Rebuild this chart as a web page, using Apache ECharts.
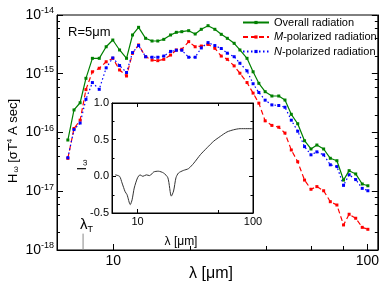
<!DOCTYPE html>
<html><head><meta charset="utf-8">
<script src="https://cdn.jsdelivr.net/npm/echarts@6/dist/echarts.min.js"></script>
<style>html,body{margin:0;padding:0;background:#fff}#c{width:382px;height:295px}</style>
</head><body><div id="c"></div>
<script>
// wavelength samples (μm)
const lambda = [6.62,7.0,7.4,7.8,8.27,8.8,9.37,9.95,10.58,11.27,11.9,12.57,13.4,14.2,14.96,15.8,16.8,17.7,18.6,19.8,21.0,22.2,23.6,25.1,26.6,28.1,29.9,31.5,33.6,35.5,37.4,39.6,42.1,44.8,47.4,50.2,53.2,56.6,60.0,63.3,67.3,71.5,75.9,80.6,84.8,90.0,95.5,100.5];
const overall = [7.45e-17,2.42e-16,3.21e-16,8.36e-16,1.83e-15,1.83e-15,2.88e-15,3.75e-15,2.54e-15,1.83e-15,4.57e-15,6.17e-15,4.01e-15,3.61e-15,3.61e-15,3.85e-15,4.57e-15,5.07e-15,5.2e-15,5.41e-15,4.75e-15,5.71e-15,6.58e-15,5.71e-15,4.69e-15,4.01e-15,3.3e-15,2.54e-15,1.83e-15,1.08e-15,6.87e-16,4.95e-16,4.18e-16,4.18e-16,3.57e-16,2.04e-16,1.41e-16,7.24e-17,5.24e-17,6.12e-17,5.24e-17,3.64e-17,3.31e-17,1.55e-17,2.24e-17,1.97e-17,1.33e-17,1.24e-17];
const mPolarized = [3.63e-17,1.17e-16,1.62e-16,5.37e-16,1.08e-15,1.24e-15,1.6e-15,1.83e-15,1.16e-15,9.16e-16,2.23e-15,3.09e-15,1.95e-15,1.71e-15,1.67e-15,1.76e-15,2.08e-15,2.54e-15,2.61e-15,3.52e-15,2.88e-15,2.96e-15,3.16e-15,2.71e-15,2.0e-15,1.76e-15,1.36e-15,1.02e-15,7.08e-16,4.68e-16,3.16e-16,1.58e-16,1.32e-16,1.23e-16,9.77e-17,5.04e-17,3.18e-17,1.55e-17,1.08e-17,1.2e-17,1.02e-17,6.64e-18,5.83e-18,2.67e-18,4.06e-18,3.47e-18,2.43e-18,2.25e-18];
const nPolarized = [3.72e-17,1.12e-16,1.45e-16,3.67e-16,7.08e-16,5.43e-16,1.26e-15,1.86e-15,1.38e-15,1.05e-15,2.29e-15,3.02e-15,1.95e-15,1.91e-15,1.91e-15,2.0e-15,2.4e-15,2.51e-15,2.51e-15,1.91e-15,1.91e-15,2.75e-15,3.39e-15,3.02e-15,2.69e-15,2.24e-15,1.95e-15,1.51e-15,1.12e-15,6.76e-16,4.79e-16,3.55e-16,2.95e-16,2.88e-16,2.69e-16,1.62e-16,1.05e-16,5.75e-17,4.17e-17,4.68e-17,4.17e-17,2.82e-17,2.63e-17,1.26e-17,1.91e-17,1.58e-17,1.12e-17,1.02e-17];
// inset
const insetLambda = [6.4,6.98,7.33,7.8,8.1,8.64,8.96,9.35,9.99,10.5,11.1,11.9,12.7,13.8,15.1,16.8,18.3,19.6,20.5,21.5,22.6,24.9,27.6,30.7,35.0,40.0,45.7,52.1,59.5,67.9,77.3,100];
const insetI = [0.02,0.0,-0.09,-0.21,-0.25,-0.385,-0.32,-0.16,-0.02,0.02,0.0,0.02,0.01,0.06,0.07,0.045,-0.02,-0.27,-0.2,-0.02,0.045,0.08,0.105,0.18,0.295,0.39,0.48,0.545,0.605,0.635,0.65,0.65];
// thermal wavelength marker
const lambdaT = 7.6;
const lambdaTSpan = [1e-18, 1.9e-18];
// minor ticks
const yMinorTicks = [2e-18,4e-18,6e-18,8e-18,2e-17,4e-17,6e-17,8e-17,2e-16,4e-16,6e-16,8e-16,2e-15,4e-15,6e-15,8e-15];
const xMinorTicks = [20,40,60,80];
const insetXMinorTicks = [50];
const insetYMinorTicks = [-0.25,0.25,0.75];

const FF = 'Liberation Sans';
const BLACK = '#000';
const chart = echarts.init(document.getElementById('c'), null, {renderer:'canvas'});

function zip(a,b){ return a.map((v,i)=>[v,b[i]]); }
function isDecade(v){ const e = Math.log10(v); return Math.abs(e-Math.round(e))<1e-6; }

function yMinorRender(len){
  return function(params, api){
    const cs = params.coordSys;
    const y = Math.round(api.coord([api.value(0), api.value(1)])[1]) + 0.5;
    return {type:'group', children:[
      {type:'line', shape:{x1:cs.x, y1:y, x2:cs.x+len, y2:y}, style:{stroke:BLACK, lineWidth:1}},
      {type:'line', shape:{x1:cs.x+cs.width, y1:y, x2:cs.x+cs.width-len, y2:y}, style:{stroke:BLACK, lineWidth:1}}
    ]};
  };
}
function xMinorRender(len, top){
  return function(params, api){
    const cs = params.coordSys;
    const x = Math.round(api.coord([api.value(0), api.value(1)])[0]) + 0.5;
    const ch = [{type:'line', shape:{x1:x, y1:cs.y+cs.height, x2:x, y2:cs.y+cs.height-len}, style:{stroke:BLACK, lineWidth:1}}];
    if (top) ch.push({type:'line', shape:{x1:x, y1:cs.y, x2:x, y2:cs.y+len}, style:{stroke:BLACK, lineWidth:1}});
    return {type:'group', children:ch};
  };
}

const decadeLabel = {
  fontFamily: FF, color: BLACK, margin: 3,
  formatter: v => isDecade(v) ? '{b|10}{s|' + Math.round(Math.log10(v)) + '}' : '',
  rich: { b:{fontFamily:FF, fontSize:14, color:BLACK}, s:{fontFamily:FF, fontSize:9, color:BLACK, padding:[0,0,8,0]} }
};

const option = {
  animation: false,
  backgroundColor: '#fff',
  grid: [
    {left:57, top:15, width:323, height:235, show:true, borderColor:BLACK, borderWidth:1, backgroundColor:'transparent'},
    {left:112, top:103, width:141, height:110, show:true, borderColor:BLACK, borderWidth:1, backgroundColor:'#fff'}
  ],
  xAxis: [
    {type:'log', logBase:10, min:6, max:110, gridIndex:0, position:'bottom',
     axisLine:{show:true, onZero:false, lineStyle:{color:BLACK}}, axisTick:{inside:true, length:6, lineStyle:{color:BLACK}},
     axisLabel:{fontFamily:FF, fontSize:14, color:BLACK, margin:4, formatter: v => isDecade(v) ? String(Math.round(v)) : ''},
     splitLine:{show:false}},
    {type:'log', logBase:10, min:6, max:100, gridIndex:1, position:'bottom',
     axisLine:{show:true, onZero:false, lineStyle:{color:BLACK}}, axisTick:{inside:true, length:4, lineStyle:{color:BLACK}},
     axisLabel:{fontFamily:FF, fontSize:11, color:BLACK, margin:3, formatter: v => isDecade(v) ? String(Math.round(v)) : ''},
     splitLine:{show:false}},
    {type:'log', logBase:10, min:6, max:100, gridIndex:1, position:'top',
     axisLine:{show:true, onZero:false, lineStyle:{color:BLACK}}, axisTick:{inside:true, length:4, lineStyle:{color:BLACK}},
     axisLabel:{show:false}, splitLine:{show:false}}
  ],
  yAxis: [
    {type:'log', logBase:10, min:1e-18, max:1e-14, gridIndex:0, position:'left',
     axisLine:{show:true, onZero:false, lineStyle:{color:BLACK}}, axisTick:{inside:true, length:6, lineStyle:{color:BLACK}},
     axisLabel: decadeLabel, splitLine:{show:false}},
    {type:'log', logBase:10, min:1e-18, max:1e-14, gridIndex:0, position:'right',
     axisLine:{show:true, onZero:false, lineStyle:{color:BLACK}}, axisTick:{inside:true, length:6, lineStyle:{color:BLACK}},
     axisLabel:{show:false}, splitLine:{show:false}},
    {type:'value', min:-0.5, max:1, interval:0.5, gridIndex:1, position:'left',
     axisLine:{show:true, onZero:false, lineStyle:{color:BLACK}}, axisTick:{inside:true, length:4, lineStyle:{color:BLACK}},
     axisLabel:{fontFamily:FF, fontSize:11, color:BLACK, margin:3, formatter: v => v.toFixed(1)},
     splitLine:{show:false}},
    {type:'value', min:-0.5, max:1, interval:0.5, gridIndex:1, position:'right',
     axisLine:{show:true, onZero:false, lineStyle:{color:BLACK}}, axisTick:{inside:true, length:4, lineStyle:{color:BLACK}},
     axisLabel:{show:false}, splitLine:{show:false}}
  ],
  legend: {
    data:['Overall radiation','M-polarized radiation','N-polarized radiation'],
    orient:'vertical', left:242, top:16, itemWidth:26, itemHeight:4, itemGap:1.5, padding:0,
    selectedMode:false,
    formatter: n => n.replace(/^([MN])-/, '{i|$1}-'),
    textStyle:{fontFamily:FF, fontSize:11, color:BLACK, lineHeight:13,
      rich:{i:{fontFamily:FF, fontSize:11, fontStyle:'italic', color:BLACK, lineHeight:13}}}
  },
  series: [
    {name:'Overall radiation', type:'line', xAxisIndex:0, yAxisIndex:0, data:zip(lambda, overall),
     symbol:'rect', symbolSize:3, showAllSymbol:true, itemStyle:{color:'#008000'},
     lineStyle:{color:'#008000', width:1.2, type:'solid'}, z:3},
    {name:'M-polarized radiation', type:'line', xAxisIndex:0, yAxisIndex:0, data:zip(lambda, mPolarized),
     symbol:'rect', symbolSize:3, showAllSymbol:true, itemStyle:{color:'#ff0000'},
     lineStyle:{color:'#ff0000', width:1.2, type:[5,3]}, z:2},
    {name:'N-polarized radiation', type:'line', xAxisIndex:0, yAxisIndex:0, data:zip(lambda, nPolarized),
     symbol:'rect', symbolSize:3, showAllSymbol:true, itemStyle:{color:'#0000ff'},
     lineStyle:{color:'#0000ff', width:1.2, type:[1.5,2.5]}, z:2},
    {name:'lambdaT', type:'line', xAxisIndex:0, yAxisIndex:0,
     data: lambdaTSpan.map(v => [lambdaT, v]), symbol:'none',
     lineStyle:{color:'#888', width:1}},
    {name:'inset', type:'line', xAxisIndex:1, yAxisIndex:2, data:zip(insetLambda, insetI),
     symbol:'none', smooth:0.25, lineStyle:{color:'#333', width:1}, z:5},
    {type:'custom', xAxisIndex:0, yAxisIndex:0, data: yMinorTicks.map(v => [10, v]), renderItem: yMinorRender(3), silent:true, z:6},
    {type:'custom', xAxisIndex:0, yAxisIndex:0, data: xMinorTicks.map(v => [v, 1e-16]), renderItem: xMinorRender(4, false), silent:true, z:6},
    {type:'custom', xAxisIndex:1, yAxisIndex:2, data: insetYMinorTicks.map(v => [10, v]), renderItem: yMinorRender(2.5), silent:true, z:6},
    {type:'custom', xAxisIndex:1, yAxisIndex:2, data: insetXMinorTicks.map(v => [v, 0]), renderItem: xMinorRender(3, true), silent:true, z:6}
  ],
  graphic: [
    {type:'text', x:13, y:141, rotation:Math.PI/2, z:10,
     style:{text:'{h|H}{sb|ω}{h| [σT}{sp|4}{h| A sec]}', align:'center', verticalAlign:'middle',
       rich:{h:{fontFamily:FF, fontSize:13, fill:BLACK}, sb:{fontFamily:FF, fontSize:8, fill:BLACK, padding:[6,0,0,1]}, sp:{fontFamily:FF, fontSize:8, fill:BLACK, padding:[0,0,7,0]}}}},
    {type:'text', x:211, y:274, z:10,
     style:{text:'λ [μm]', fontFamily:FF, fontSize:16, fill:BLACK, align:'center', verticalAlign:'middle'}},
    {type:'text', x:68, y:32, z:10,
     style:{text:'R=5μm', fontFamily:FF, fontSize:13, fill:BLACK, align:'left', verticalAlign:'middle'}},
    {type:'text', x:80, y:225, z:10,
     style:{text:'{l|λ}{t|T}', align:'left', verticalAlign:'middle',
       rich:{l:{fontFamily:FF, fontSize:15, fill:BLACK}, t:{fontFamily:FF, fontSize:9, fill:BLACK, padding:[9,0,0,0]}}}},
    {type:'text', x:181, y:242, z:10,
     style:{text:'λ [μm]', fontFamily:FF, fontSize:12, fill:BLACK, align:'center', verticalAlign:'middle'}},
    {type:'text', x:82, y:165, rotation:Math.PI/2, z:10,
     style:{text:'{h|I}{sb|ω}', align:'center', verticalAlign:'middle',
       rich:{h:{fontFamily:FF, fontSize:13, fill:BLACK}, sb:{fontFamily:FF, fontSize:8, fill:BLACK, padding:[6,0,0,1]}}}}
  ]
};
chart.setOption(option);
</script></body></html>
